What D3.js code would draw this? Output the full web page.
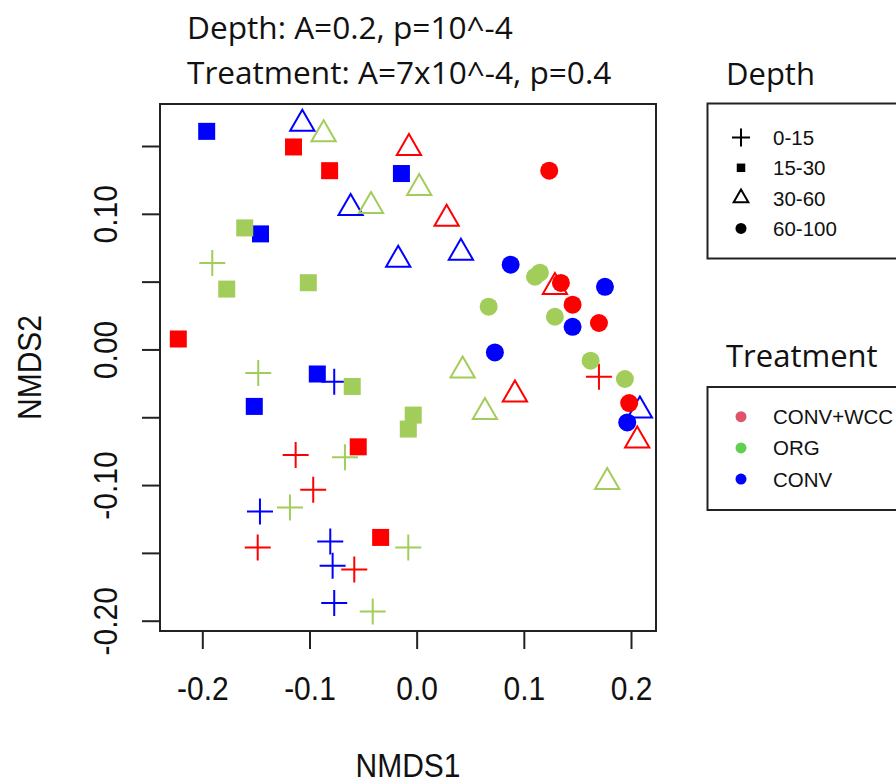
<!DOCTYPE html>
<html>
<head>
<meta charset="utf-8">
<script src="https://cdn.jsdelivr.net/npm/d3@7"></script>
<style>
  html, body { margin: 0; padding: 0; background: #ffffff; }
  svg { display: block; }
</style>
</head>
<body>
<div id="chart"></div>
<script>
// NMDS scores, one array per depth class: [treatment, NMDS1, NMDS2]
const depth0to15 = [
  ["CONV", -0.0769, -0.0238], ["CONV", -0.1462, -0.1195], ["CONV", -0.0806, -0.1416],
  ["CONV", -0.0784, -0.1595], ["CONV", -0.0769, -0.1870],
  ["ORG", -0.1907, 0.0637], ["ORG", -0.1478, -0.0174], ["ORG", -0.0669, -0.0794],
  ["ORG", -0.1182, -0.1165], ["ORG", -0.0078, -0.1460], ["ORG", -0.0410, -0.1932],
  ["CONV+WCC", -0.1129, -0.0779], ["CONV+WCC", -0.0965, -0.1035], ["CONV+WCC", -0.1483, -0.1460],
  ["CONV+WCC", -0.0582, -0.1622], ["CONV+WCC", 0.1701, -0.0201],
];
const depth15to30 = [
  ["CONV", -0.1959, 0.1608], ["CONV", -0.0142, 0.1297], ["CONV", -0.1457, 0.0852],
  ["CONV", -0.0927, -0.0181], ["CONV", -0.1515, -0.0420],
  ["ORG", -0.1604, 0.0896], ["ORG", -0.1772, 0.0445], ["ORG", -0.1011, 0.0492],
  ["ORG", -0.0601, -0.0273], ["ORG", -0.0032, -0.0484], ["ORG", -0.0078, -0.0587],
  ["CONV+WCC", -0.1149, 0.1493], ["CONV+WCC", -0.0812, 0.1318], ["CONV+WCC", -0.2224, 0.0077],
  ["CONV+WCC", -0.0545, -0.0718], ["CONV+WCC", -0.0336, -0.1386],
];
const depth30to60 = [
  ["CONV", -0.1067, 0.1664], ["CONV", -0.0616, 0.1043], ["CONV", -0.0172, 0.0662],
  ["CONV", 0.0413, 0.0713], ["CONV", 0.2083, -0.0450],
  ["ORG", -0.0868, 0.1586], ["ORG", -0.0426, 0.1058], ["ORG", 0.0024, 0.1190],
  ["ORG", 0.0429, -0.0155], ["ORG", 0.0637, -0.0462], ["ORG", 0.1778, -0.0978],
  ["CONV+WCC", -0.0072, 0.1485], ["CONV+WCC", 0.0280, 0.0964], ["CONV+WCC", 0.1290, 0.0460],
  ["CONV+WCC", 0.0917, -0.0332], ["CONV+WCC", 0.2058, -0.0671],
];
const depth60to100 = [
  ["CONV", 0.0877, 0.0625], ["CONV", 0.1757, 0.0462], ["CONV", 0.1455, 0.0167],
  ["CONV", 0.0730, -0.0022], ["CONV", 0.1965, -0.0538],
  ["ORG", 0.1104, 0.0536], ["ORG", 0.1150, 0.0566], ["ORG", 0.0672, 0.0315],
  ["ORG", 0.1290, 0.0241], ["ORG", 0.1623, -0.0083], ["ORG", 0.1943, -0.0218],
  ["CONV+WCC", 0.1237, 0.1318], ["CONV+WCC", 0.1346, 0.0490], ["CONV+WCC", 0.1455, 0.0330],
  ["CONV+WCC", 0.1701, 0.0195], ["CONV+WCC", 0.1983, -0.0395],
];

const depthLabels = ["0-15", "15-30", "30-60", "60-100"];
const depthShapes = ["plus", "square", "triangle", "circle"];
const treatmentLabels = ["CONV+WCC", "ORG", "CONV"];
const pointColors = ["#FF0000", "#A2CD5A", "#0000FF"];
const legendColors = ["#DF536B", "#61D04F", "#0000FF"];
const xTicks = [-0.2, -0.1, 0.0, 0.1, 0.2];
const yTicks = [0.15, 0.10, 0.05, 0.00, -0.05, -0.10, -0.15, -0.20];
const yTickLabels = ["", "0.10", "", "0.00", "", "-0.10", "", "-0.20"];
const titleLines = ["Depth: A=0.2, p=10^-4", "Treatment: A=7x10^-4, p=0.4"];

const width = 896;
const height = 783;
const plot = { left: 160, right: 656, top: 104, bottom: 631 };
const axisFont = "'Liberation Sans', Arial, sans-serif";
const titleFont = "'Open Sans', 'Noto Sans', sans-serif";
const ink = "#111111";

const svg = d3.select("#chart").append("svg").attr("width", width).attr("height", height);

const x = d3.scaleLinear().domain([-0.2, 0.2]).range([202.3, 631]);
const y = d3.scaleLinear().domain([-0.2, 0.15]).range([620.7, 146]);
const colorOf = d3.scaleOrdinal().domain(treatmentLabels).range(pointColors);

function symbolPath(shape, s) {
  if (shape === "plus") return `M${-s},0H${s}M0,${-s}V${s}`;
  if (shape === "triangle") {
    const h = s * 0.866;
    return `M0,${-s}L${h},${s / 2}L${-h},${s / 2}Z`;
  }
  return null;
}

function drawSymbol(g, shape, size, color) {
  if (shape === "square") {
    g.append("rect").attr("x", -size / 2).attr("y", -size / 2).attr("width", size).attr("height", size).attr("fill", color);
  } else if (shape === "circle") {
    g.append("circle").attr("r", size).attr("fill", color);
  } else {
    g.append("path")
      .attr("d", symbolPath(shape, size))
      .attr("fill", "none")
      .attr("stroke", color)
      .attr("stroke-width", 2);
  }
}

// points, drawn depth by depth so circles sit on top of triangles
const markSize = { plus: 13, square: 17, triangle: 14, circle: 9 };
[depth0to15, depth15to30, depth30to60, depth60to100].forEach((rows, index) => {
  const shape = depthShapes[index];
  svg
    .append("g")
    .selectAll("g")
    .data(rows)
    .join("g")
    .attr("transform", (d) => `translate(${x(d[1])},${y(d[2])})`)
    .each(function (d) {
      drawSymbol(d3.select(this), shape, markSize[shape], colorOf(d[0]));
    });
});

// plot frame
svg
  .append("rect")
  .attr("x", plot.left)
  .attr("y", plot.top)
  .attr("width", plot.right - plot.left)
  .attr("height", plot.bottom - plot.top)
  .attr("fill", "none")
  .attr("stroke", "#222")
  .attr("stroke-width", 2);

// x axis
const xAxis = svg
  .append("g")
  .attr("transform", `translate(0,${plot.bottom})`)
  .call(d3.axisBottom(x).tickValues(xTicks).tickSize(18).tickFormat(d3.format(".1f")));
xAxis.select(".domain").remove();
xAxis.selectAll("line").attr("stroke", "#222").attr("stroke-width", 2);
xAxis
  .selectAll("text")
  .attr("y", 0)
  .attr("dy", null)
  .attr("transform", "translate(0,69) scale(1,1.12)")
  .attr("font-family", axisFont)
  .attr("font-size", 30)
  .attr("fill", ink)
  .text((d) => d3.format(".1f")(d).replace("−", "-"));

// y axis, rotated labels as R draws them
const yAxis = svg
  .append("g")
  .attr("transform", `translate(${plot.left},0)`)
  .call(d3.axisLeft(y).tickValues(yTicks).tickSize(18).tickFormat((d, i) => yTickLabels[i]));
yAxis.select(".domain").remove();
yAxis.selectAll("line").attr("stroke", "#222").attr("stroke-width", 2);
yAxis
  .selectAll("text")
  .attr("x", 0)
  .attr("dy", null)
  .attr("text-anchor", "middle")
  .attr("transform", "translate(-43,0) rotate(-90) scale(1,1.12)")
  .attr("font-family", axisFont)
  .attr("font-size", 30)
  .attr("fill", ink);

svg
  .append("text")
  .attr("transform", `translate(${(plot.left + plot.right) / 2},777) scale(1,1.12)`)
  .attr("text-anchor", "middle")
  .attr("font-family", axisFont)
  .attr("font-size", 30)
  .attr("fill", ink)
  .text("NMDS1");

svg
  .append("text")
  .attr("transform", `translate(41,${(plot.top + plot.bottom) / 2}) rotate(-90) scale(1,1.12)`)
  .attr("text-anchor", "middle")
  .attr("font-family", axisFont)
  .attr("font-size", 30)
  .attr("fill", ink)
  .text("NMDS2");

// statistics above the plot
svg
  .append("g")
  .selectAll("text")
  .data(titleLines)
  .join("text")
  .attr("x", 187)
  .attr("y", (d, i) => 39 + i * 44.5)
  .attr("font-family", titleFont)
  .attr("font-size", 31.6)
  .attr("fill", ink)
  .text((d) => d);

// legends
function addLegend(title, titleY, boxTop, boxBottom, rowTop, rowStep, labels, drawKey) {
  svg
    .append("text")
    .attr("x", 726)
    .attr("y", titleY)
    .attr("font-family", titleFont)
    .attr("font-size", 31)
    .attr("fill", ink)
    .text(title);
  svg
    .append("rect")
    .attr("x", 707.5)
    .attr("y", boxTop)
    .attr("width", 240)
    .attr("height", boxBottom - boxTop)
    .attr("fill", "none")
    .attr("stroke", "#222")
    .attr("stroke-width", 2);
  const rows = svg
    .append("g")
    .selectAll("g")
    .data(labels)
    .join("g")
    .attr("transform", (d, i) => `translate(741,${rowTop + i * rowStep})`);
  rows.each(function (d, i) {
    drawKey(d3.select(this), i);
  });
  rows
    .append("text")
    .attr("x", 32)
    .attr("y", 7.5)
    .attr("font-family", axisFont)
    .attr("font-size", 20.5)
    .attr("fill", ink)
    .text((d) => d);
}

const keySize = { plus: 9, square: 8.5, triangle: 8.5, circle: 5.5 };
addLegend("Depth", 85, 103.5, 258.5, 137.5, 30.3, depthLabels, (g, i) => {
  drawSymbol(g, depthShapes[i], keySize[depthShapes[i]], "#000");
});
addLegend("Treatment", 366.5, 387, 510, 416.7, 31.2, treatmentLabels, (g, i) => {
  drawSymbol(g, "circle", 5.5, legendColors[i]);
});
</script>
</body>
</html>
